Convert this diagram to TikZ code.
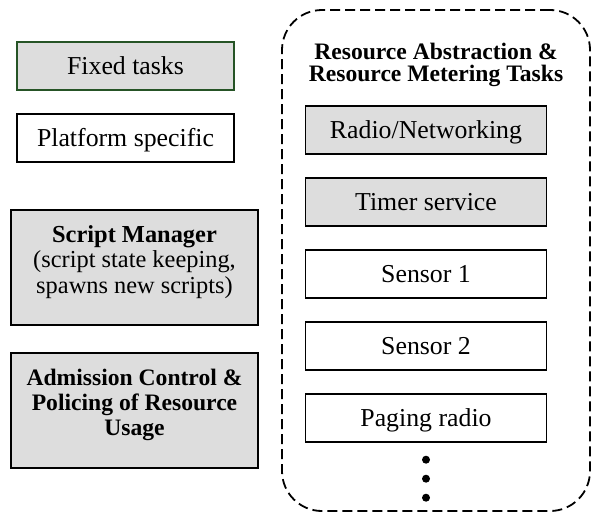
\documentclass[tikz,border=0pt]{standalone}
\usepackage{fontspec}
\setmainfont{Liberation Serif}
\usetikzlibrary{positioning}
\definecolor{taskgray}{RGB}{221,221,221}
\definecolor{fixedgreen}{RGB}{38,84,38}
\newcommand{\deepline}{\rule[-8.4pt]{0pt}{8.4pt}}

\begin{document}
\begin{tikzpicture}[x=1pt,y=1pt,on grid,node distance=36pt,
		every node/.style={font=\fontsize{12.9}{12}\selectfont, inner sep=0pt},
		box/.style={draw, line width=0.9pt},
		task/.style={box, minimum height=24pt, text height=8.5pt, text depth=0pt},
		gray task/.style={task, fill=taskgray},
		multi/.style={box, fill=taskgray, align=center, minimum width=123.5pt, minimum height=57.5pt, font=\fontsize{12.2}{12.75}\selectfont},
		resource/.style={task, minimum width=120.5pt},
		dot/.style={circle, fill, minimum size=4pt}]
	\useasboundingbox (0,0) rectangle (296,-257);
	% legend
	\node[gray task, draw=fixedgreen, minimum width=108.5pt] (fixed) at (62.75,-33) {Fixed tasks};
	\node[task, minimum width=108.5pt] (platform) [below=of fixed] {Platform specific};
	% left column
	\node[multi] (manager) [below right=64.75pt and 4.5pt of platform] {\textbf{Script Manager}\\(script state keeping,\\spawns new scripts)\deepline};
	\node[multi, font=\fontsize{11.8}{12.5}\selectfont\bfseries] (admission) [below=71.5pt of manager] {Admission Control \&\\Policing of Resource\\Usage\deepline};
	% right column
	\node[box, dash pattern=on 5pt off 2.5pt, rounded corners=20pt, minimum width=154pt, minimum height=250.5pt] (metering) at (218,-130.25) {};
	\node[font=\fontsize{11.8}{11}\selectfont\bfseries, align=center] (title) [below=17pt of metering.north] {Resource Abstraction \&\\Resource Metering Tasks};
	\node[resource, fill=taskgray] (radio) [below left=32.2pt and 5pt of title] {Radio/Networking};
	\node[resource, fill=taskgray] (timer) [below=of radio] {Timer service};
	\node[resource] (sensor1) [below=of timer] {Sensor 1};
	\node[resource] (sensor2) [below=of sensor1] {Sensor 2};
	\node[resource] (paging) [below=of sensor2] {Paging radio};
	\foreach \d [count=\i] in {21,30.5,40}
		\node[dot] (dot\i) [below=\d pt of paging] {};
\end{tikzpicture}
\end{document}
